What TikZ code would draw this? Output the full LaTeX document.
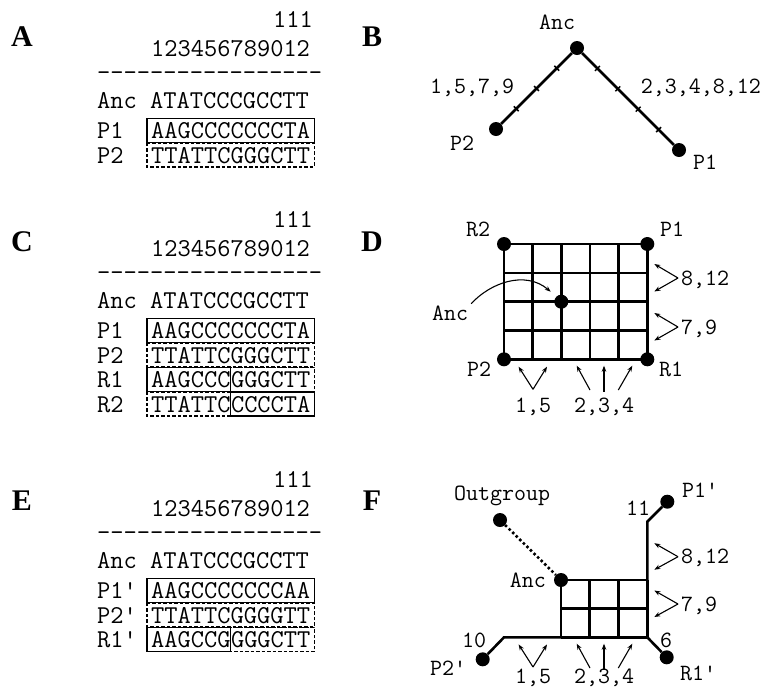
\documentclass[tikz,border=0pt]{standalone}
\usepackage{fontspec}
\setmainfont{Liberation Serif}
\usetikzlibrary{arrows.meta,calc}

\newcommand\seqfont{\ttfamily\fontsize{25.7}{30}\selectfont}
\newcommand\tagfont{\ttfamily\fontsize{23.3}{28}\selectfont}

\tikzset{
  seq/.style={font=\seqfont, inner sep=0pt, text height=15.7pt, text depth=0pt, anchor=west},
  tag/.style={font=\tagfont, inner sep=0pt, text height=14.2pt, text depth=0pt},
  panel/.style={font=\fontsize{30}{30}\selectfont\bfseries, inner sep=0pt, text height=19.9pt, text depth=0pt},
  taxon/.style={circle, fill=black, inner sep=0pt, minimum size=14pt},
  branch/.style={line width=2.6pt},
  notch/.style={line width=1.5pt},
  pointer/.style={line width=1.1pt, -{Stealth[length=6pt,width=4.5pt]}},
  solidbox/.style={line width=1.3pt},
  dashbox/.style={line width=1.3pt, dash pattern=on 3.5pt off 2pt},
}

\begin{document}
\begin{tikzpicture}[x=1pt, y=-1pt]
  \useasboundingbox (0,0) rectangle (762,689);

  % panel A: alignment of the two parents
  \node[panel] (labA) at (22,37) {A};
  \node[seq, anchor=east] (numA1) at (313,20) {111};
  \node[seq] (numA2) at (151,49) {123456789012};
  \node[seq] (rulA) at (97,72.6) {-----------------};
  \node[seq] (ancA) at (97,101) {Anc ATATCCCGCCTT};
  \node[seq] (namA1) at (97,131) {P1};
  \node[seq] (seqA1) at (151,131) {AAGCCCCCCCTA};
  \node[seq] (namA2) at (97,155.5) {P2};
  \node[seq] (seqA2) at (151,155.5) {TTATTCGGGCTT};
  \draw[solidbox] ([xshift=-4pt,yshift=4.5pt]seqA1.north west) rectangle ([xshift=4pt,yshift=-3.5pt]seqA1.south east);
  \draw[dashbox] ([xshift=-4pt,yshift=4.5pt]seqA2.north west) rectangle ([xshift=4pt,yshift=-3.5pt]seqA2.south east);

  % panel B: tree of the parents
  \node[panel] (labB) at (372,37) {B};
  \node[taxon] (bAnc) at (577,48) {};
  \node[taxon] (bP2) at (496,129) {};
  \node[taxon] (bP1) at (679,150) {};
  \draw[branch] (bP2) -- (bAnc) -- (bP1);
  \foreach \t in {0.25,0.5,0.75}
    \draw[notch] ($(bAnc)!\t!(bP2)+(-2.4,-2.4)$) -- ($(bAnc)!\t!(bP2)+(2.4,2.4)$);
  \foreach \t in {0.2,0.4,0.6,0.8}
    \draw[notch] ($(bAnc)!\t!(bP1)+(-2.4,2.4)$) -- ($(bAnc)!\t!(bP1)+(2.4,-2.4)$);
  \node[tag] (bAncl) at (557,22) {Anc};
  \node[tag] (bP2l) at (462,143) {P2};
  \node[tag] (bP1l) at (705,162) {P1};
  \node[tag] (bLeft) at (472,86) {1,5,7,9};
  \node[tag, anchor=east] (bRight) at (761,86) {2,3,4,8,12};

  % panel C: alignment with recombinants
  \node[panel] (labC) at (22,242) {C};
  \node[seq, anchor=east] (numC1) at (313,220) {111};
  \node[seq] (numC2) at (151,249) {123456789012};
  \node[seq] (rulC) at (97,272.6) {-----------------};
  \node[seq] (ancC) at (97,301) {Anc ATATCCCGCCTT};
  \node[seq] (namC1) at (97,331) {P1};
  \node[seq] (seqC1) at (151,331) {AAGCCCCCCCTA};
  \node[seq] (namC2) at (97,355.5) {P2};
  \node[seq] (seqC2) at (151,355.5) {TTATTCGGGCTT};
  \node[seq] (namC3) at (97,380) {R1};
  \node[seq] (seqC3a) at (151,380) {AAGCCC};
  \node[seq] (seqC3b) at (seqC3a.east) {GGGCTT};
  \node[seq] (namC4) at (97,404.5) {R2};
  \node[seq] (seqC4a) at (151,404.5) {TTATTC};
  \node[seq] (seqC4b) at (seqC4a.east) {CCCCTA};
  \draw[solidbox] ([xshift=-4pt,yshift=4.5pt]seqC1.north west) rectangle ([xshift=4pt,yshift=-3.5pt]seqC1.south east);
  \draw[dashbox] ([xshift=-4pt,yshift=4.5pt]seqC2.north west) rectangle ([xshift=4pt,yshift=-3.5pt]seqC2.south east);
  \draw[dashbox] ([yshift=4.5pt]seqC3b.north west) rectangle ([xshift=4pt,yshift=-3.5pt]seqC3b.south east);
  \draw[solidbox] ([xshift=-4pt,yshift=4.5pt]seqC3a.north west) rectangle ([yshift=-3.5pt]seqC3a.south east);
  \draw[dashbox] ([xshift=-4pt,yshift=4.5pt]seqC4a.north west) rectangle ([yshift=-3.5pt]seqC4a.south east);
  \draw[solidbox] ([yshift=4.5pt]seqC4b.north west) rectangle ([xshift=4pt,yshift=-3.5pt]seqC4b.south east);

  % panel D: recombination network
  \node[panel] (labD) at (372,242) {D};
  \node[taxon] (dR2) at (504,244) {};
  \node[taxon] (dP1) at (647.3,244) {};
  \node[taxon] (dP2) at (504,359.3) {};
  \node[taxon] (dR1) at (647.3,359.3) {};
  \node[taxon] (dAnc) at (561.3,301.7) {};
  \foreach \i in {0,...,5}
    \draw[branch] ($(dR2.center)!\i/5!(dP1.center)$) -- ($(dP2.center)!\i/5!(dR1.center)$);
  \foreach \j in {0,...,4}
    \draw[branch] ($(dR2.center)!\j/4!(dP2.center)$) -- ($(dP1.center)!\j/4!(dR1.center)$);
  \node[tag] (dR2l) at (478,229) {R2};
  \node[tag] (dP1l) at (672,229) {P1};
  \node[tag] (dP2l) at (479,369) {P2};
  \node[tag] (dR1l) at (671,369) {R1};
  \node[tag] (dAncl) at (450,313) {Anc};
  \draw[pointer] ([xshift=3pt,yshift=2pt]dAncl.north east) .. controls (490,283) and (525,270) .. ([xshift=-10.6pt,yshift=10pt]dAnc.center);
  \node[tag, anchor=west] (d812) at (681,278) {8,12};
  \node[tag, anchor=west] (d79) at (681,327) {7,9};
  \foreach \n in {d812,d79} {
    \draw[pointer] ([xshift=-3pt]\n.west) -- ++(-23.7,-14);
    \draw[pointer] ([xshift=-3pt]\n.west) -- ++(-23.7,13.5);
  }
  \node[tag] (d15) at (533,405) {1,5};
  \node[tag] (d234) at (604,405) {2,3,4};
  \draw[pointer] ([yshift=15.7pt]d15.center) -- ++(-14.4,-22.6);
  \draw[pointer] ([yshift=15.7pt]d15.center) -- ++(14,-22.6);
  \draw[pointer] ([shift={(-14,-15)}]d234.center) -- ++(-13.3,-24.3);
  \draw[pointer] ([shift={(0,-13.3)}]d234.center) -- ++(0,-26);
  \draw[pointer] ([shift={(14.3,-15)}]d234.center) -- ++(14,-24.3);

  % panel E: alignment with outgroup rooting
  \node[panel] (labE) at (22,501) {E};
  \node[seq, anchor=east] (numE1) at (313,480) {111};
  \node[seq] (numE2) at (151,509) {123456789012};
  \node[seq] (rulE) at (97,532.6) {-----------------};
  \node[seq] (ancE) at (97,561) {Anc ATATCCCGCCTT};
  \node[seq] (namE1) at (97,591) {P1'};
  \node[seq] (seqE1) at (151,591) {AAGCCCCCCCAA};
  \node[seq] (namE2) at (97,615.5) {P2'};
  \node[seq] (seqE2) at (151,615.5) {TTATTCGGGGTT};
  \node[seq] (namE3) at (97,640) {R1'};
  \node[seq] (seqE3a) at (151,640) {AAGCCG};
  \node[seq] (seqE3b) at (seqE3a.east) {GGGCTT};
  \draw[solidbox] ([xshift=-4pt,yshift=4.5pt]seqE1.north west) rectangle ([xshift=4pt,yshift=-3.5pt]seqE1.south east);
  \draw[dashbox] ([xshift=-4pt,yshift=4.5pt]seqE2.north west) rectangle ([xshift=4pt,yshift=-3.5pt]seqE2.south east);
  \draw[dashbox] ([yshift=4.5pt]seqE3b.north west) rectangle ([xshift=4pt,yshift=-3.5pt]seqE3b.south east);
  \draw[solidbox] ([xshift=-4pt,yshift=4.5pt]seqE3a.north west) rectangle ([yshift=-3.5pt]seqE3a.south east);

  % panel F: rooted network
  \node[panel] (labF) at (372,501) {F};
  \node[taxon] (fAnc) at (561,580) {};
  \node[taxon] (fOut) at (500,520) {};
  \node[taxon] (fP1) at (667.3,501.7) {};
  \node[taxon] (fP2) at (482.7,659.3) {};
  \node[taxon] (fR1) at (666.7,657.3) {};
  \coordinate (fTR) at (647.3,580);
  \coordinate (fBL) at (561,637.3);
  \coordinate (fBR) at (647.3,637.3);
  \coordinate (fKnee1) at (647.3,521.7);
  \coordinate (fKnee2) at (504,637.3);
  \foreach \i in {0,...,3}
    \draw[branch] ($(fAnc.center)!\i/3!(fTR)$) -- ($(fBL)!\i/3!(fBR)$);
  \foreach \j in {0,...,2}
    \draw[branch] ($(fAnc.center)!\j/2!(fBL)$) -- ($(fTR)!\j/2!(fBR)$);
  \draw[branch] (fBR) -- (fKnee1) -- (fP1);
  \draw[branch] (fBL) -- (fKnee2) -- (fP2);
  \draw[branch] (fBR) -- (fR1);
  \draw[line width=2.6pt, dash pattern=on 2.5pt off 2.5pt] (fOut) -- (fAnc);
  \node[tag] (fOutl) at (502,493) {Outgroup};
  \node[tag] (fP1l) at (700,490) {P1'};
  \node[tag] (f11) at (638,508) {11};
  \node[tag, anchor=east] (fAncl) at (546,580) {Anc};
  \node[tag] (f10) at (474,640) {10};
  \node[tag] (fP2l) at (448,668) {P2'};
  \node[tag] (f6) at (666,640) {6};
  \node[tag] (fR1l) at (698,673) {R1'};
  \node[tag, anchor=west] (f812) at (681,556.7) {8,12};
  \node[tag, anchor=west] (f79) at (681,604) {7,9};
  \foreach \n in {f812,f79} {
    \draw[pointer] ([xshift=-3pt]\n.west) -- ++(-23.7,-13.5);
    \draw[pointer] ([xshift=-3pt]\n.west) -- ++(-23.7,13);
  }
  \node[tag] (f15) at (533,676) {1,5};
  \node[tag] (f234) at (604,676) {2,3,4};
  \draw[pointer] ([yshift=9pt]f15.center) -- ++(-14.4,-22.6);
  \draw[pointer] ([yshift=9pt]f15.center) -- ++(14,-22.6);
  \draw[pointer] ([shift={(-14,-8)}]f234.center) -- ++(-13.3,-24.3);
  \draw[pointer] ([shift={(0,-6.3)}]f234.center) -- ++(0,-26);
  \draw[pointer] ([shift={(14.3,-8)}]f234.center) -- ++(14,-24.3);
\end{tikzpicture}
\end{document}
